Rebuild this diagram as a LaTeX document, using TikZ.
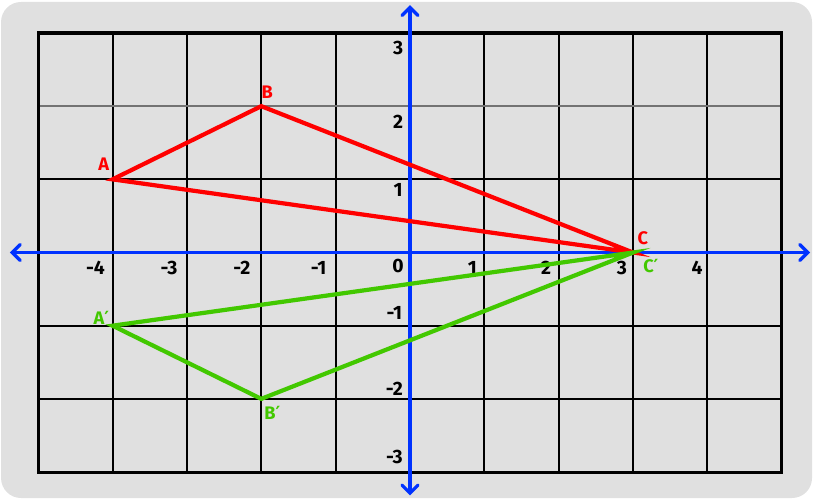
\documentclass[tikz,border=0pt]{standalone}
\usepackage{fontspec}
\setmainfont{Fira Sans}
\newfontfamily\primafont{DejaVu Sans}
\usetikzlibrary{arrows.meta}
\definecolor{bgGray}{RGB}{224,224,224}
\definecolor{axisBlue}{RGB}{0,50,255}
\definecolor{triRed}{RGB}{255,0,0}
\definecolor{triGreen}{RGB}{66,200,0}
\newcommand{\prima}{{\primafont\bfseries ′}}

\begin{document}
\begin{tikzpicture}[
    x=2.2305cm, y=2.195cm,
    fondo/.style={
        fill=bgGray,
        rounded corners=0.6cm
    },
    rejilla/.style={
        draw=black,
        line width=1.7pt
    },
    borde/.style={
        draw=black,
        line width=2.6pt
    },
    eje/.style={
        axisBlue,
        line width=2.8pt,
        {Straight Barb[length=2.4mm,width=4.8mm,line cap=round]}-{Straight Barb[length=2.4mm,width=4.8mm,line cap=round]}
    },
    tri/.style={
        line width=3.6pt,
        line join=miter
    },
    num/.style={
        font=\fontsize{16.5}{18}\selectfont\bfseries,
        inner sep=0pt
    },
    etiq/.style={
        font=\fontsize{15.5}{18}\selectfont\bfseries,
        inner sep=0pt
    }
]

    % fondo y limites
    \useasboundingbox (-5.514,-3.369) rectangle (5.420,3.451);
    \fill[fondo] (-5.500,-3.355) rectangle (5.407,3.424);

    % rejilla
    \foreach \x in {-4,...,4}
        \draw[rejilla] (\x,-3) -- (\x,3);
    \foreach \y in {-2,-1,1}
        \draw[rejilla] (-5,\y) -- (5,\y);
    \draw[rejilla, draw=black!55] (-5,2) -- (5,2);
    \draw[borde] (-5,-3) rectangle (5,3);

    % ejes
    \coordinate (xizq) at (-5.38,0);
    \coordinate (xder) at (5.38,0);
    \coordinate (yinf) at (0,-3.32);
    \coordinate (ysup) at (0,3.38);
    \draw[eje] (xizq) -- (xder);
    \draw[eje] (yinf) -- (ysup);

    % numeros
    \foreach \x/\px in {-4/-4.23,-3/-3.24,-2/-2.26,-1/-1.23,1/0.84,2/1.83,3/2.85,4/3.86}
        \node[num] (nx\x) at (\px,-0.21) {\x};
    \node[num] (n0) at (-0.16,-0.18) {0};
    \foreach \y/\py in {3/2.80,2/1.79,1/0.86}
        \node[num] (ny\y) at (-0.16,\py) {\y};
    \foreach \y/\py in {-1/-0.82,-2/-1.86,-3/-2.80}
        \node[num] (ny\y) at (-0.21,\py) {\y};

    % puntos
    \coordinate (A) at (-4,1);
    \coordinate (B) at (-2,2);
    \coordinate (C) at (3,0);
    \coordinate (Ap) at (-4,-1);
    \coordinate (Bp) at (-2,-2);
    \coordinate (Cp) at (3,0);

    % triangulos
    \draw[tri, triRed] (A) -- (B) -- (C) -- cycle;
    \draw[tri, triGreen] (Ap) -- (Bp) -- (Cp) -- cycle;

    % etiquetas
    \node[etiq, triRed] (labA) at (-4.12,1.21) {A};
    \node[etiq, triRed] (labB) at (-1.92,2.19) {B};
    \node[etiq, triRed] (labC) at (3.13,0.19) {C};
    \node[etiq, triGreen] (labAp) at (-4.15,-0.89) {A\prima};
    \node[etiq, triGreen] (labBp) at (-1.85,-2.19) {B\prima};
    \node[etiq, triGreen] (labCp) at (3.24,-0.18) {C\prima};

\end{tikzpicture}
\end{document}
